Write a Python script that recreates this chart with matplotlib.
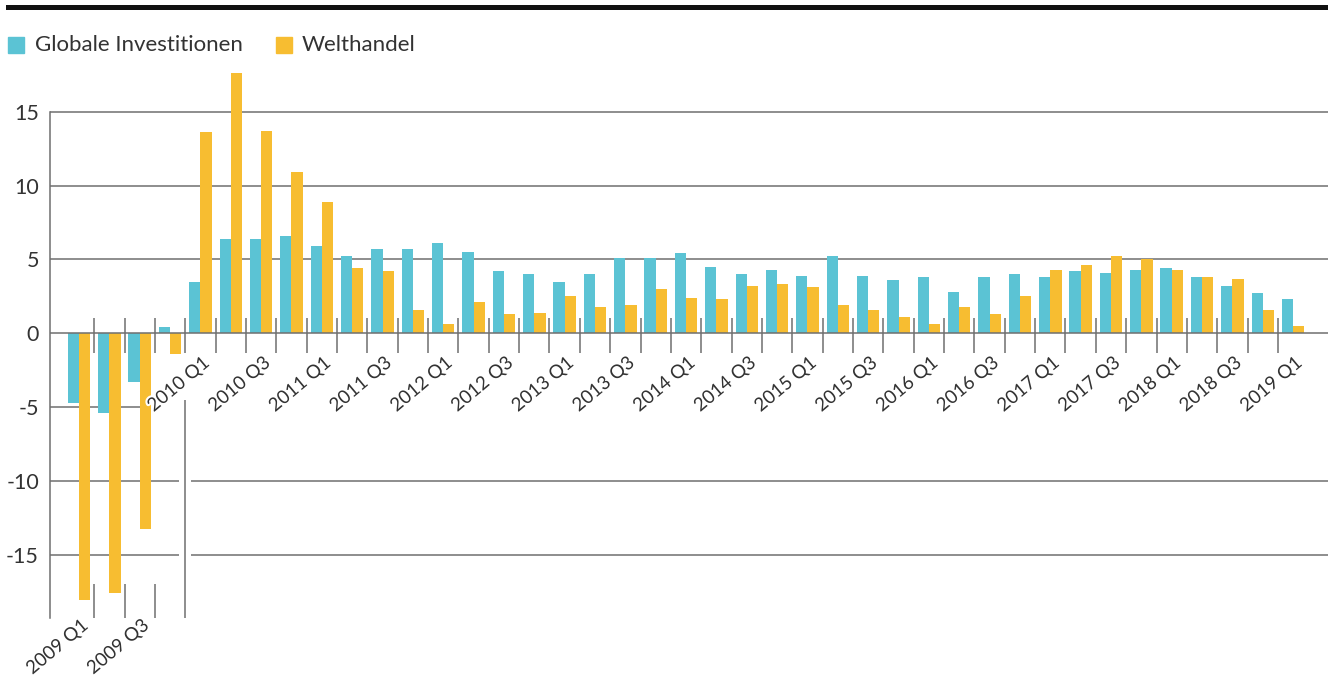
import matplotlib
matplotlib.use("Agg")
import matplotlib.pyplot as plt
import matplotlib.patheffects as pe
from matplotlib.patches import Rectangle
from matplotlib.lines import Line2D
import numpy as np

plt.rcParams['font.family'] = ['Lato', 'DejaVu Sans']

# ---------------- data ----------------
quarters = [f"{y} Q{q}" for y in range(2009, 2019) for q in (1, 2, 3, 4)] + ["2019 Q1"]
investitionen = [-4.7, -5.4, -3.3, 0.45,
                 3.45, 6.4, 6.4, 6.6,
                 5.9, 5.2, 5.7, 5.7,
                 6.1, 5.5, 4.2, 4.0,
                 3.5, 4.0, 5.1, 5.1,
                 5.4, 4.5, 4.0, 4.3,
                 3.9, 5.2, 3.9, 3.6,
                 3.8, 2.8, 3.8, 4.0,
                 3.8, 4.2, 4.1, 4.3,
                 4.4, 3.8, 3.2, 2.7,
                 2.3]
welthandel = [-18.1, -17.6, -13.3, -1.4,
              13.6, 17.6, 13.7, 10.9,
              8.9, 4.4, 4.2, 1.6,
              0.6, 2.1, 1.3, 1.4,
              2.5, 1.8, 1.9, 3.0,
              2.4, 2.3, 3.2, 3.3,
              3.1, 1.9, 1.6, 1.1,
              0.6, 1.8, 1.3, 2.5,
              4.3, 4.6, 5.2, 5.0,
              4.3, 3.8, 3.7, 1.6,
              0.5]
series_names = ["Globale Investitionen", "Welthandel"]
yticks = [-15, -10, -5, 0, 5, 10, 15]

# ---------------- style ----------------
BLUE = "#5BC3D4"
YELLOW = "#F7BD31"
GRID = "#6f6f6f"
TXT = "#333333"
FS_LEG = 16
FS_Y = 15.5
FS_X = 13.5

W, H = 1328, 679
fig = plt.figure(figsize=(W / 100, H / 100), dpi=100)

ymin, ymax = -19.3, 17.9
xmin, xmax = -0.955, 41.15
ax = fig.add_axes([50 / W, (H - 618) / H, 1278 / W, (618 - 69) / H])
ax.set_xlim(xmin, xmax)
ax.set_ylim(ymin, ymax)

n = len(quarters)
x = np.arange(n)
bw = 0.37
ax.bar(x - bw / 2, investitionen, width=bw, color=BLUE, zorder=2)
ax.bar(x + bw / 2, welthandel, width=bw, color=YELLOW, zorder=2)

# grid lines
glw = 1.1
for yv in yticks:
    if yv == -5:
        ax.hlines(yv, xmin, 2.2, color=GRID, lw=glw, zorder=1)
    elif yv < -5:
        ax.hlines(yv, xmin, 3.3, color=GRID, lw=glw, zorder=1)
        ax.hlines(yv, 3.7, xmax, color=GRID, lw=glw, zorder=1)
    else:
        ax.hlines(yv, xmin, xmax, color=GRID, lw=glw, zorder=1 if yv else 3)

# category separators (ticks)
bounds = np.arange(n - 1) + 0.5
ax.vlines(bounds, -1.35, 1.0, color=GRID, lw=1.1, zorder=3)
neg_groups = [i for i in range(n) if min(investitionen[i], welthandel[i]) < -5]
for i in neg_groups:
    ax.vlines(i + 0.5, -17.0, ymin, color=GRID, lw=1.1, zorder=3)
last_neg = max(neg_groups) + 1
ax.vlines(last_neg + 0.5, -4.55, ymin, color=GRID, lw=1.1, zorder=3)

# x labels
for i, q in enumerate(quarters):
    if i % 2:
        continue
    if i in neg_groups:
        ty = ymin + 0.1
    else:
        ty = -1.4
    ax.text(i + 0.4, ty, q, rotation=40, ha="right", va="top",
            fontsize=FS_X, color=TXT, clip_on=False, zorder=4,
            path_effects=[pe.withStroke(linewidth=3, foreground="white")])

# y axis
ax.set_xticks([])
ax.set_yticks(yticks)
ax.set_yticklabels([str(v) for v in yticks], fontsize=FS_Y, color=TXT)
ax.tick_params(axis="y", length=0, pad=8)
for s in ("top", "right", "bottom"):
    ax.spines[s].set_visible(False)
ax.spines["left"].set_bounds(ymin, 15)
ax.spines["left"].set_color(GRID)
ax.spines["left"].set_linewidth(1.1)

# top rule
fig.add_artist(Line2D([8 / W, 1.0], [1 - 6.5 / H, 1 - 6.5 / H], color="#111111",
                      lw=3.6, transform=fig.transFigure))

# legend
def legend_item(x0, color, label, tx):
    fig.add_artist(Rectangle((x0 / W, 1 - 53 / H), 16 / W, 16 / H, color=color,
                             transform=fig.transFigure))
    fig.text(tx / W, 1 - 45 / H, label, fontsize=FS_LEG, color=TXT, va="center", ha="left")

legend_item(8, BLUE, series_names[0], 35)
legend_item(276, YELLOW, series_names[1], 302)

fig.savefig("out.png", dpi=100)
